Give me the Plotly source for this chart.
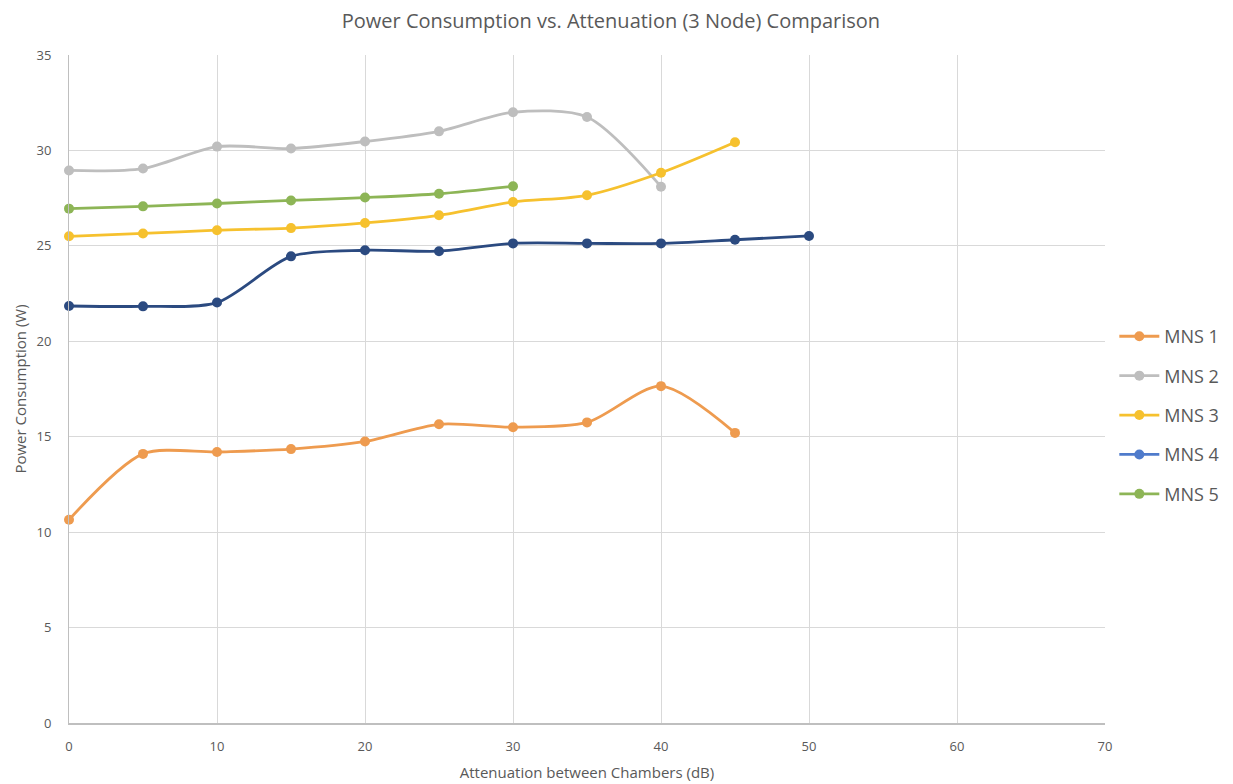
import plotly.graph_objects as go

attenuation = [0, 5, 10, 15, 20, 25, 30, 35, 40, 45, 50]

mns1 = [10.65, 14.1, 14.2, 14.35, 14.75, 15.65, 15.5, 15.75, 17.65, 15.2]
mns2 = [28.95, 29.05, 30.2, 30.1, 30.47, 31.0, 32.0, 31.75, 28.1]
mns3 = [25.5, 25.65, 25.82, 25.93, 26.2, 26.6, 27.3, 27.65, 28.83, 30.43]
mns4 = [21.85, 21.83, 22.03, 24.45, 24.77, 24.72, 25.13, 25.13, 25.13, 25.32, 25.52]
mns5 = [26.95, 27.07, 27.22, 27.38, 27.53, 27.73, 28.12]

names = ["MNS 1", "MNS 2", "MNS 3", "MNS 4", "MNS 5"]
series = [mns1, mns2, mns3, mns4, mns5]
line_colors = ["#EE9B4F", "#BEBEBE", "#F6C12E", "#2B4A80", "#8DB556"]
legend_colors = ["#EE9B4F", "#BEBEBE", "#F6C12E", "#4F7BCB", "#8DB556"]

fig = go.Figure()
for name, vals, lc in zip(names, series, line_colors):
    fig.add_trace(go.Scatter(
        x=attenuation[:len(vals)], y=vals, mode="lines+markers", name=name,
        line=dict(color=lc, width=2.8, shape="spline", smoothing=0.8),
        marker=dict(color=lc, size=10),
        cliponaxis=False,
        showlegend=False,
    ))
for name, gc in zip(names, legend_colors):
    fig.add_trace(go.Scatter(
        x=[None], y=[None], mode="lines+markers", name=name, legendgroup=name,
        line=dict(color=gc, width=2.8), marker=dict(color=gc, size=10),
    ))

font_family = "Open Sans, Liberation Sans, Arial"
fig.update_layout(
    width=1233, height=784,
    margin=dict(l=59, r=136, t=47, b=69),
    paper_bgcolor="white", plot_bgcolor="white",
    title=dict(text="Power Consumption vs. Attenuation (3 Node) Comparison",
               x=0.489, xanchor="center", y=0.983, yanchor="middle",
               font=dict(family=font_family, size=20, color="#595959")),
    font=dict(family=font_family, size=12, color="#595959"),
    legend=dict(x=1.009, xanchor="left", y=0.461, yanchor="middle",
                traceorder="grouped", tracegroupgap=13, itemwidth=40,
                font=dict(size=18, color="#595959"),
                bgcolor="rgba(0,0,0,0)"),
    xaxis=dict(range=[0, 70], dtick=10, tick0=0,
               showgrid=True, gridcolor="#D9D9D9", gridwidth=1,
               showline=True, linecolor="#BFBFBF", linewidth=1.5,
               zeroline=False, ticks="", ticklabelstandoff=11,
               title=dict(text="Attenuation between Chambers (dB)", standoff=13,
                          font=dict(size=15, color="#595959")),
               tickfont=dict(size=13, color="#595959")),
    yaxis=dict(range=[0, 35], dtick=5, tick0=0,
               showgrid=True, gridcolor="#D9D9D9", gridwidth=1,
               showline=True, linecolor="#BFBFBF", linewidth=1,
               zeroline=False, ticks="", ticklabelstandoff=14,
               title=dict(text="Power Consumption (W)", standoff=6,
                          font=dict(size=15, color="#595959")),
               tickfont=dict(size=13, color="#595959")),
)

fig.write_html("out.html")
